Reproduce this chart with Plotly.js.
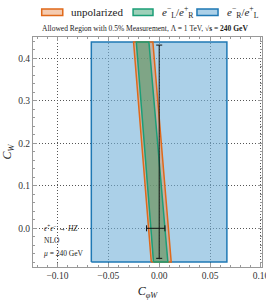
<!DOCTYPE html>
<html>
<head>
<meta charset="utf-8">
<script src="https://cdn.plot.ly/plotly-3.0.1.min.js"></script>
<style>html,body{margin:0;padding:0;background:#fff;}#chart{width:266px;height:301px;}</style>
</head>
<body>
<div id="chart"></div>
<script>
// Blue region (e-_R / e+_L): rectangle corners
const blueX = [-0.0667, 0.0665, 0.0665, -0.0667, -0.0667];
const blueY = [-0.079, -0.079, 0.438, 0.438, -0.079];
// Orange band (unpolarized)
const orangeX = [-0.0078, 0.0118, -0.0062, -0.0252, -0.0078];
const orangeY = [-0.079, -0.079, 0.438, 0.438, -0.079];
// Green band (e-_L / e+_R)
const greenX = [-0.0056, 0.0085, -0.0101, -0.0225, -0.0056];
const greenY = [-0.079, -0.079, 0.438, 0.438, -0.079];
// Measurement point with asymmetric errors
const ptX = [0.0];
const ptY = [0.0];
const errXplus = [0.0056];
const errXminus = [0.0124];
const errYplus = [0.431];
const errYminus = [0.0706];
// Legend labels
const legendNames = ['unpolarized',
  '<i>e</i><sup>−</sup><sub>L</sub>/<i>e</i><sup>+</sup><sub>R</sub>',
  '<i>e</i><sup>−</sup><sub>R</sub>/<i>e</i><sup>+</sup><sub>L</sub>'];

const serif = "Liberation Serif, DejaVu Serif, serif";
const lineCols = ['#e0691a', '#1b9e77', '#1f78b4'];
const fillCols = ['rgba(232,140,80,0.45)', 'rgba(40,150,100,0.45)', 'rgba(115,177,217,0.6)'];

const orangeTrace = {x: orangeX, y: orangeY, type:'scatter', mode:'lines', fill:'toself', name:legendNames[0],
   line:{color:lineCols[0], width:1.5}, fillcolor:fillCols[0], showlegend:false};
const greenTrace = {x: greenX, y: greenY, type:'scatter', mode:'lines', fill:'toself', name:legendNames[1],
   line:{color:lineCols[1], width:1.5}, fillcolor:fillCols[1], showlegend:false};
const blueTrace = {x: blueX, y: blueY, type:'scatter', mode:'lines', fill:'toself', name:legendNames[2],
   line:{color:lineCols[2], width:1.5}, fillcolor:fillCols[2], showlegend:false};
const errTrace = {x: ptX, y: ptY, type:'scatter', mode:'markers', marker:{size:0.1, color:'black', opacity:0}, showlegend:false,
   error_x:{type:'data', symmetric:false, array: errXplus, arrayminus: errXminus, color:'#111', thickness:1, width:3},
   error_y:{type:'data', symmetric:false, array: errYplus, arrayminus: errYminus, color:'#111', thickness:1, width:3}};

const data = [blueTrace, orangeTrace, greenTrace, errTrace];

// manual legend (paper coordinates)
const swX0 = [0.038, 0.437, 0.716];
const swX1 = [0.130, 0.524, 0.808];
const txtX = [0.157, 0.555, 0.838];
const legendShapes = swX0.map((x0, i) => ({type:'rect', xref:'paper', yref:'paper', x0:x0, x1:swX1[i],
  y0:1.093, y1:1.122, line:{color:lineCols[i], width:1.5}, fillcolor:fillCols[i], layer:'above'}));
const legendTexts = txtX.map((x, i) => ({x:x, y:1.107, xref:'paper', yref:'paper', xanchor:'left', yanchor:'middle',
  showarrow:false, text:legendNames[i], font:{family:serif, size:11, color:'#222'}}));

const axisCommon = {
  showline:true, linecolor:'#999', linewidth:1, mirror:'allticks',
  ticks:'inside', ticklen:4, tickcolor:'#999',
  showgrid:true, gridcolor:'#555', griddash:'1px,2px', gridwidth:1,
  zeroline:false, ticklabeloverflow:'allow',
  tickfont:{family:serif, size:9.5, color:'#333'}
};

const layout = {
  width:266, height:301,
  margin:{l:33, r:4, t:37, b:34},
  paper_bgcolor:'#fff', plot_bgcolor:'#fff',
  font:{family:serif, color:'#222'},
  title:{text:'Allowed Region with 0.5% Measurement, Λ = 1 TeV, <b>√s = 240 GeV</b>',
         font:{family:serif, size:7.5, color:'#222'}, x:0.545, xanchor:'center', y:0.905, yref:'container', yanchor:'middle'},
  showlegend:false,
  shapes: legendShapes,
  xaxis: Object.assign({}, axisCommon, {
    range:[-0.124, 0.101], tickvals:[-0.10,-0.05,0.00,0.05,0.10], tickformat:'.2f',
    minor:{dtick:0.01, tick0:0, ticks:'inside', ticklen:2, tickcolor:'#999', showgrid:false},
    title:{text:'<i>C</i><sub><i>φW</i></sub>', font:{family:serif, size:12, color:'#222'}, standoff:6}
  }),
  yaxis: Object.assign({}, axisCommon, {
    range:[-0.091, 0.45], tickvals:[0.0,0.1,0.2,0.3,0.4], tickformat:'.1f',
    minor:{dtick:0.02, tick0:0, ticks:'inside', ticklen:2, tickcolor:'#999', showgrid:false},
    title:{text:'<i>C</i><sub><i>W</i></sub>', font:{family:serif, size:12, color:'#222'}, standoff:4}
  }),
  annotations: legendTexts.concat([
    {x:-0.1155, y:0.0, xref:'x', yref:'y', xanchor:'left', yanchor:'middle', showarrow:false,
     text:'<i>e</i><sup>+</sup><i>e</i><sup>−</sup> → <i>HZ</i>', font:{family:serif, size:7.5, color:'#222'}},
    {x:-0.1155, y:-0.029, xref:'x', yref:'y', xanchor:'left', yanchor:'middle', showarrow:false,
     text:'NLO', font:{family:serif, size:7.5, color:'#222'}},
    {x:-0.1155, y:-0.059, xref:'x', yref:'y', xanchor:'left', yanchor:'middle', showarrow:false,
     text:'<i>μ</i> = 240 GeV', font:{family:serif, size:7.5, color:'#222'}}
  ])
};

Plotly.newPlot('chart', data, layout, {displayModeBar:false, staticPlot:true});
</script>
</body>
</html>
